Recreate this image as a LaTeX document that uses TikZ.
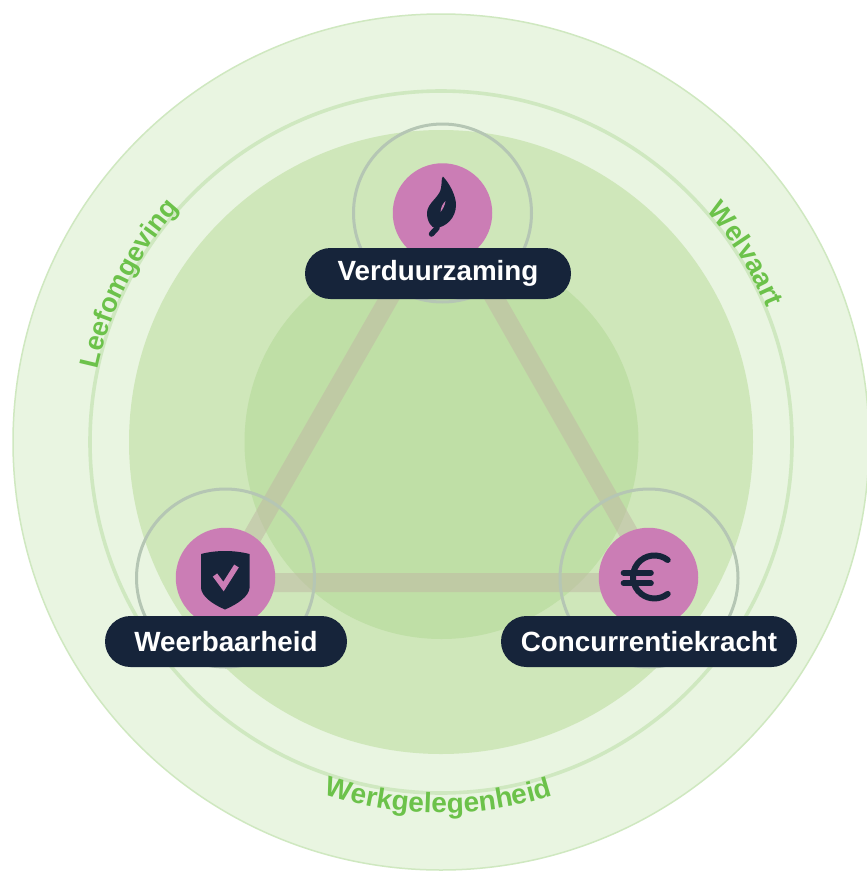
\documentclass[tikz,border=0pt]{standalone}
\usepackage{fontspec}
\setmainfont{Liberation Sans}
\usetikzlibrary{decorations.text}
\definecolor{outerfill}{HTML}{E9F5E1}
\definecolor{midfill}{HTML}{CFE7BA}
\definecolor{innerfill}{HTML}{BFDFA6}
\definecolor{ringline}{HTML}{CFE8C0}
\definecolor{orbit}{HTML}{B5C6B4}
\definecolor{band}{HTML}{BFB6A4}
\definecolor{pinkfill}{HTML}{CB7DB5}
\definecolor{navy}{HTML}{16243A}
\definecolor{labelgreen}{HTML}{6CC24A}
\tikzset{
  zone/.style={circle,inner sep=0pt,minimum size=#1},
  orbitring/.style={circle,draw=orbit,line width=3pt,inner sep=0pt,minimum size=178pt},
  badge/.style={circle,fill=pinkfill,inner sep=0pt,minimum size=99.5pt},
  pill/.style={rounded corners=25.5pt,fill=navy,text=white,inner sep=0pt,minimum height=51pt,font=\bfseries\fontsize{27.8}{30}\selectfont},
  tri/.style={line width=19pt,draw=band,opacity=.5,line join=miter},
}
\begin{document}
\begin{tikzpicture}[x=1pt,y=-1pt]
\useasboundingbox (0,0) rectangle (867,873);
\clip (0,0) rectangle (867,873);
\fill[white] (0,0) rectangle (867,873);
% zones
\node[zone=856pt,fill=outerfill,draw=ringline,line width=1.5pt] (outer) at (441,442) {};
\node[zone=702pt,draw=ringline,line width=3.6pt] (ring) at (441,442) {};
\node[zone=624pt,fill=midfill] (mid) at (441,442) {};
\node[zone=394pt,fill=innerfill] (inner) at (441.5,442) {};
% triangle
\coordinate (ta) at (442,206);
\coordinate (tb) at (226,582.5);
\coordinate (tc) at (657,582.5);
\draw[tri] (ta) -- (tb) -- (tc) -- cycle;
% orbit rings
\node[orbitring] (ra) at (442.5,213) {};
\node[orbitring] (rb) at (225.5,578) {};
\node[orbitring] (rc) at (649,578) {};
% badges
\node[badge] (ba) at (442.5,213) {};
\node[badge] (bb) at (225.5,577.5) {};
\node[badge] (bc) at (648.5,577.5) {};
% leaf
\fill[navy] (443,176.5) .. controls (450,184) and (456,196) .. (456,205)
  .. controls (456,218) and (446,227) .. (436,228)
  .. controls (431,228) and (427,221) .. (427,213)
  .. controls (427,203) and (440,197) .. (441,188)
  .. controls (442,184) and (441,178) .. (443,176.5) -- cycle;
\draw[navy,line width=5.5pt,line cap=round] (437,228) -- (431.5,234);
\fill[pinkfill] (445.5,201) .. controls (445,205) and (443,209) .. (440.5,212) .. controls (441,207) and (442.5,204) .. (445.5,201) -- cycle;
% shield
\fill[navy] (201,554) .. controls (216,550) and (234,550) .. (249.5,554) -- (249.5,588)
  .. controls (249,596) and (238,604) .. (225,609.5)
  .. controls (212,604) and (201.5,596) .. (201,588) -- cycle;
\draw[pinkfill,line width=5.4pt,line join=miter] (215,575) -- (223.5,586.5) -- (236.5,566);
% euro
\draw[navy,line width=6pt,line cap=round] (667.7,560) arc[start angle=52,end angle=308,radius=21.5pt];
\draw[navy,line width=5.6pt,line cap=round] (623.5,572.7) -- (651,572.7) (623.5,583.2) -- (651,583.2);
% pills
\node[pill,minimum width=266pt] (pa) at (438,273.5) {Verduurzaming};
\node[pill,minimum width=242pt] (pb) at (226,641.5) {Weerbaarheid};
\node[pill,minimum width=296pt] (pc) at (649,641.5) {Concurrentiekracht};
% curved labels
\begin{scope}[shift={(441,442)},x=1pt,y=1pt]
\path[decorate,decoration={text along path,text align={fit to path},
  text={|\fontsize{27}{30}\selectfont\bfseries\color{labelgreen}|Leefomgeving}}]
  (168:351pt) arc[start angle=168,end angle=138.5,radius=351pt];
\path[decorate,decoration={text along path,text align={fit to path},
  text={|\fontsize{27.5}{30}\selectfont\bfseries\color{labelgreen}|Welvaart}}]
  (41:352pt) arc[start angle=41,end angle=22.7,radius=352pt];
\path[decorate,decoration={text along path,text align={fit to path},
  text={|\fontsize{28}{30}\selectfont\bfseries\color{labelgreen}|Werkgelegenheid}}]
  (251.6:371pt) arc[start angle=251.6,end angle=287.6,radius=371pt];
\end{scope}
\end{tikzpicture}
\end{document}
